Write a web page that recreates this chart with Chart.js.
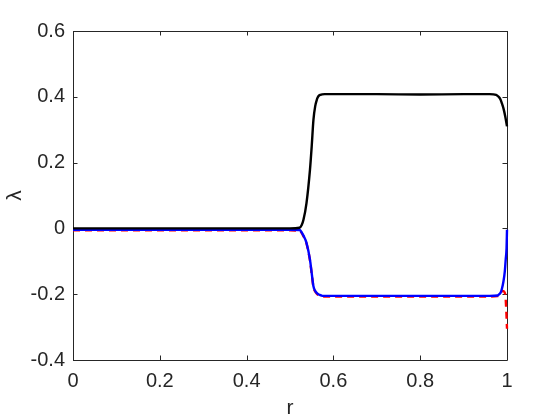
<!DOCTYPE html>
<html>
<head>
<meta charset="utf-8">
<script src="https://cdn.jsdelivr.net/npm/chart.js@4/dist/chart.umd.min.js"></script>
<style>
  html, body { margin: 0; padding: 0; background: #ffffff; }
  #wrap { width: 560px; height: 420px; }
</style>
</head>
<body>
<div id="wrap"><canvas id="c" width="560" height="420"></canvas></div>
<script>
// ---- data ----
const xTicks = [0, 0.2, 0.4, 0.6, 0.8, 1];
const yTicks = [-0.4, -0.2, 0, 0.2, 0.4, 0.6];

const rBlack = [0, 0.5, 0.522, 0.527, 0.531, 0.538, 0.546, 0.550, 0.554, 0.558, 0.562, 0.565, 0.570, 0.580, 0.70, 0.80, 0.90, 0.96, 0.975, 0.980, 0.985, 0.988, 0.992, 0.996, 1.0];
const lamBlack = [0.0, 0.0, 0.002, 0.010, 0.026, 0.077, 0.178, 0.249, 0.330, 0.371, 0.392, 0.401, 0.406, 0.408, 0.408, 0.407, 0.408, 0.408, 0.406, 0.401, 0.392, 0.381, 0.364, 0.340, 0.310];

const rBlue = [0, 0.5, 0.522, 0.526, 0.531, 0.538, 0.546, 0.550, 0.554, 0.558, 0.562, 0.568, 0.575, 0.60, 0.70, 0.80, 0.90, 0.96, 0.978, 0.982, 0.985, 0.988, 0.992, 0.995, 0.997, 0.999, 1.0];
const lamBlue = [-0.004, -0.004, -0.005, -0.010, -0.022, -0.044, -0.095, -0.136, -0.176, -0.190, -0.197, -0.202, -0.205, -0.205, -0.205, -0.205, -0.205, -0.205, -0.204, -0.200, -0.196, -0.185, -0.160, -0.130, -0.095, -0.060, -0.004];

const rRed = [0, 0.5, 0.522, 0.526, 0.531, 0.538, 0.546, 0.550, 0.554, 0.558, 0.562, 0.568, 0.575, 0.60, 0.70, 0.80, 0.90, 0.96, 0.978, 0.985, 0.990, 0.996, 0.998, 1.0];
const lamRed = [-0.006, -0.006, -0.007, -0.012, -0.024, -0.046, -0.097, -0.138, -0.178, -0.192, -0.199, -0.204, -0.207, -0.207, -0.207, -0.207, -0.207, -0.207, -0.206, -0.198, -0.190, -0.200, -0.240, -0.305];

const toPts = (xs, ys) => xs.map((x, i) => ({ x: x, y: ys[i] }));

const AXIS_COLOR = '#262626';
const FONT = '"Liberation Sans", Arial, Helvetica, sans-serif';
const fmt = v => (Math.abs(v) < 1e-9 ? '0' : String(+v.toFixed(1)));

// frame + inward ticks (MATLAB style box)
const boxPlugin = {
  id: 'box',
  beforeDatasetsDraw(chart) {
    const { ctx, chartArea: a, scales } = chart;
    const tl = 4.5;
    ctx.save();
    ctx.strokeStyle = AXIS_COLOR;
    ctx.lineWidth = 1;
    ctx.beginPath();
    ctx.rect(Math.round(a.left) + 0.5, Math.round(a.top) + 0.5, Math.round(a.right - a.left), Math.round(a.bottom - a.top));
    xTicks.forEach(t => {
      const px = Math.round(scales.x.getPixelForValue(t)) + 0.5;
      ctx.moveTo(px, a.bottom); ctx.lineTo(px, a.bottom - tl);
      ctx.moveTo(px, a.top); ctx.lineTo(px, a.top + tl);
    });
    yTicks.forEach(t => {
      const py = Math.round(scales.y.getPixelForValue(t)) + 0.5;
      ctx.moveTo(a.left, py); ctx.lineTo(a.left + tl, py);
      ctx.moveTo(a.right, py); ctx.lineTo(a.right - tl, py);
    });
    ctx.stroke();
    ctx.restore();
  }
};

const lineStyle = { pointRadius: 0, borderWidth: 2.4, cubicInterpolationMode: 'monotone', clip: 6 };

new Chart(document.getElementById('c'), {
  type: 'line',
  data: {
    datasets: [
      Object.assign({ label: 'black', data: toPts(rBlack, lamBlack), borderColor: '#000000' }, lineStyle),
      Object.assign({ label: 'blue', data: toPts(rBlue, lamBlue), borderColor: '#0000ff' }, lineStyle),
      Object.assign({ label: 'red', data: toPts(rRed, lamRed), borderColor: '#ff0000', borderDash: [7, 5] }, lineStyle)
    ]
  },
  options: {
    responsive: false,
    animation: false,
    devicePixelRatio: 1,
    layout: { padding: { top: 31, right: 53, left: 0, bottom: 0 } },
    plugins: { legend: { display: false }, tooltip: { enabled: false } },
    scales: {
      x: {
        type: 'linear', min: 0, max: 1,
        afterBuildTicks: s => { s.ticks = xTicks.map(v => ({ value: v })); },
        afterFit: s => { s.height = 60; },
        grid: { display: false, drawTicks: false },
        border: { display: false },
        ticks: { color: AXIS_COLOR, font: { family: FONT, size: 20 }, padding: 9, maxRotation: 0, callback: fmt },
        title: { display: true, text: 'r', color: AXIS_COLOR, font: { family: FONT, size: 21 }, padding: { top: 0, bottom: -1 } }
      },
      y: {
        type: 'linear', min: -0.4, max: 0.6,
        afterBuildTicks: s => { s.ticks = yTicks.map(v => ({ value: v })); },
        afterFit: s => { s.width = 73; },
        grid: { display: false, drawTicks: false },
        border: { display: false },
        ticks: { color: AXIS_COLOR, font: { family: FONT, size: 20 }, padding: 8, callback: fmt },
        title: { display: true, text: 'λ', color: AXIS_COLOR, font: { family: FONT, size: 21 }, padding: { top: 3, bottom: 0 } }
      }
    }
  },
  plugins: [boxPlugin]
});
</script>
</body>
</html>
